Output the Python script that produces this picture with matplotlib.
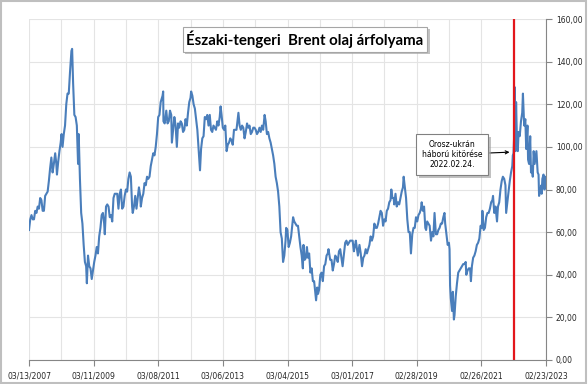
import numpy as np
import pandas as pd
import matplotlib
matplotlib.use("Agg")
import matplotlib.pyplot as plt
import matplotlib.dates as mdates
import matplotlib.patheffects as pe
from matplotlib.patches import Rectangle
from matplotlib.ticker import FuncFormatter

# Brent napi árfolyam (USD/hordó) - a képről leolvasott értékek
dates = [
    # 2007
    "2007-03-13", "2007-03-27", "2007-04-10", "2007-04-24", "2007-05-08", "2007-05-22", "2007-06-05",
    "2007-06-19", "2007-07-03", "2007-07-17", "2007-07-31", "2007-08-14", "2007-08-28", "2007-09-11",
    "2007-09-25", "2007-10-09", "2007-10-23", "2007-11-06", "2007-11-20", "2007-12-04", "2007-12-18",
    # 2008
    "2008-01-02", "2008-01-15", "2008-01-22", "2008-02-05", "2008-02-19", "2008-03-04", "2008-03-14",
    "2008-03-25", "2008-04-08", "2008-04-22", "2008-05-06", "2008-05-20", "2008-06-03", "2008-06-17",
    "2008-07-03", "2008-07-11", "2008-07-22", "2008-08-05", "2008-08-19", "2008-09-02", "2008-09-16",
    "2008-09-23", "2008-10-07", "2008-10-21", "2008-11-04", "2008-11-18", "2008-12-02", "2008-12-16",
    "2008-12-24",
    # 2009
    "2009-01-06", "2009-01-20", "2009-02-03", "2009-02-17", "2009-03-03", "2009-03-17", "2009-03-31",
    "2009-04-14", "2009-04-28", "2009-05-12", "2009-05-26", "2009-06-09", "2009-06-23", "2009-07-07",
    "2009-07-14", "2009-07-28", "2009-08-11", "2009-08-25", "2009-09-08", "2009-09-22", "2009-10-06",
    "2009-10-20", "2009-11-03", "2009-11-17", "2009-12-01", "2009-12-15", "2009-12-29",
    # 2010
    "2010-01-12", "2010-01-26", "2010-02-09", "2010-02-23", "2010-03-09", "2010-03-23", "2010-04-06",
    "2010-04-20", "2010-05-04", "2010-05-18", "2010-05-25", "2010-06-08", "2010-06-22", "2010-07-06",
    "2010-07-20", "2010-08-03", "2010-08-17", "2010-08-24", "2010-09-07", "2010-09-21", "2010-10-05",
    "2010-10-19", "2010-11-02", "2010-11-16", "2010-11-30", "2010-12-14", "2010-12-28",
    # 2011
    "2011-01-11", "2011-01-25", "2011-02-08", "2011-02-22", "2011-03-08", "2011-03-22", "2011-04-05",
    "2011-04-12", "2011-04-26", "2011-05-03", "2011-05-06", "2011-05-20", "2011-06-07", "2011-06-21",
    "2011-07-05", "2011-07-19", "2011-08-02", "2011-08-09", "2011-08-23", "2011-09-06", "2011-09-20",
    "2011-10-04", "2011-10-18", "2011-11-01", "2011-11-15", "2011-11-29", "2011-12-13", "2011-12-27",
    # 2012
    "2012-01-10", "2012-01-24", "2012-02-07", "2012-02-21", "2012-03-06", "2012-03-13", "2012-03-27",
    "2012-04-10", "2012-04-24", "2012-05-08", "2012-05-22", "2012-06-05", "2012-06-21", "2012-07-03",
    "2012-07-17", "2012-07-31", "2012-08-14", "2012-08-28", "2012-09-11", "2012-09-25", "2012-10-09",
    "2012-10-23", "2012-11-06", "2012-11-20", "2012-12-04", "2012-12-18",
    # 2013
    "2013-01-02", "2013-01-15", "2013-01-29", "2013-02-08", "2013-02-19", "2013-03-05", "2013-03-19",
    "2013-04-02", "2013-04-17", "2013-04-30", "2013-05-14", "2013-05-28", "2013-06-11", "2013-06-25",
    "2013-07-09", "2013-07-23", "2013-08-06", "2013-08-28", "2013-09-10", "2013-09-24", "2013-10-08",
    "2013-10-22", "2013-11-05", "2013-11-19", "2013-12-03", "2013-12-17", "2013-12-31",
    # 2014
    "2014-01-14", "2014-01-28", "2014-02-11", "2014-02-25", "2014-03-11", "2014-03-25", "2014-04-08",
    "2014-04-22", "2014-05-06", "2014-05-20", "2014-06-03", "2014-06-19", "2014-07-01", "2014-07-15",
    "2014-07-29", "2014-08-12", "2014-08-26", "2014-09-09", "2014-09-23", "2014-10-07", "2014-10-21",
    "2014-11-04", "2014-11-18", "2014-12-02", "2014-12-16", "2014-12-30",
    # 2015
    "2015-01-13", "2015-01-27", "2015-02-10", "2015-02-17", "2015-03-03", "2015-03-17", "2015-03-31",
    "2015-04-14", "2015-05-06", "2015-05-19", "2015-06-02", "2015-06-16", "2015-06-30", "2015-07-14",
    "2015-07-28", "2015-08-11", "2015-08-24", "2015-08-31", "2015-09-14", "2015-09-28", "2015-10-09",
    "2015-10-20", "2015-11-03", "2015-11-17", "2015-12-01", "2015-12-15", "2015-12-29",
    # 2016
    "2016-01-12", "2016-01-20", "2016-02-02", "2016-02-11", "2016-02-23", "2016-03-08", "2016-03-22",
    "2016-04-05", "2016-04-19", "2016-05-03", "2016-05-17", "2016-05-31", "2016-06-08", "2016-06-27",
    "2016-07-12", "2016-07-26", "2016-08-09", "2016-08-23", "2016-09-06", "2016-09-20", "2016-10-04",
    "2016-10-18", "2016-11-01", "2016-11-14", "2016-11-30", "2016-12-13", "2016-12-27",
    # 2017
    "2017-01-10", "2017-01-24", "2017-02-07", "2017-02-21", "2017-03-07", "2017-03-21", "2017-04-04",
    "2017-04-12", "2017-04-25", "2017-05-05", "2017-05-23", "2017-06-06", "2017-06-21", "2017-07-05",
    "2017-07-18", "2017-08-01", "2017-08-15", "2017-08-29", "2017-09-12", "2017-09-26", "2017-10-10",
    "2017-10-24", "2017-11-07", "2017-11-21", "2017-12-05", "2017-12-19",
    # 2018
    "2018-01-02", "2018-01-16", "2018-01-30", "2018-02-13", "2018-02-27", "2018-03-13", "2018-03-27",
    "2018-04-10", "2018-04-24", "2018-05-08", "2018-05-17", "2018-05-29", "2018-06-12", "2018-06-19",
    "2018-07-03", "2018-07-17", "2018-07-31", "2018-08-14", "2018-08-28", "2018-09-11", "2018-09-25",
    "2018-10-03", "2018-10-16", "2018-10-30", "2018-11-13", "2018-11-27", "2018-12-11", "2018-12-24",
    # 2019
    "2019-01-08", "2019-01-22", "2019-02-05", "2019-02-19", "2019-03-05", "2019-03-19", "2019-04-02",
    "2019-04-16", "2019-04-24", "2019-05-07", "2019-05-21", "2019-06-04", "2019-06-13", "2019-06-25",
    "2019-07-09", "2019-07-23", "2019-08-07", "2019-08-20", "2019-09-03", "2019-09-16", "2019-10-01",
    "2019-10-15", "2019-10-29", "2019-11-12", "2019-11-26", "2019-12-10", "2019-12-24",
    # 2020
    "2020-01-06", "2020-01-14", "2020-01-28", "2020-02-11", "2020-02-25", "2020-03-03", "2020-03-09",
    "2020-03-17", "2020-03-31", "2020-04-09", "2020-04-21", "2020-04-28", "2020-05-12", "2020-05-26",
    "2020-06-09", "2020-06-23", "2020-07-07", "2020-07-21", "2020-08-04", "2020-08-18", "2020-09-01",
    "2020-09-08", "2020-09-22", "2020-10-06", "2020-10-20", "2020-10-30", "2020-11-10", "2020-11-24",
    "2020-12-08", "2020-12-22",
    # 2021
    "2021-01-05", "2021-01-19", "2021-02-02", "2021-02-16", "2021-03-02", "2021-03-08", "2021-03-23",
    "2021-04-06", "2021-04-20", "2021-05-04", "2021-05-18", "2021-06-01", "2021-06-15", "2021-06-29",
    "2021-07-06", "2021-07-20", "2021-08-03", "2021-08-20", "2021-08-31", "2021-09-14", "2021-09-28",
    "2021-10-12", "2021-10-25", "2021-11-09", "2021-11-23", "2021-12-01", "2021-12-14", "2021-12-28",
    # 2022
    "2022-01-11", "2022-01-25", "2022-02-08", "2022-02-14", "2022-02-22", "2022-03-01", "2022-03-08",
    "2022-03-16", "2022-03-23", "2022-04-01", "2022-04-11", "2022-04-20", "2022-05-03", "2022-05-17",
    "2022-05-31", "2022-06-08", "2022-06-22", "2022-07-05", "2022-07-15", "2022-07-29", "2022-08-05",
    "2022-08-16", "2022-08-29", "2022-09-07", "2022-09-15", "2022-09-27", "2022-10-07", "2022-10-18",
    "2022-11-07", "2022-11-21", "2022-12-01", "2022-12-07", "2022-12-20",
    # 2023
    "2023-01-03", "2023-01-05", "2023-01-13", "2023-01-26", "2023-02-06", "2023-02-14", "2023-02-23",
]

brent = [
    # 2007
    61, 66, 68, 66, 66, 70, 69,
    72, 71, 76, 75, 70, 70, 77,
    78, 79, 84, 90, 95, 88, 92,
    # 2008
    97, 92, 87, 93, 98, 102, 106,
    100, 106, 110, 120, 125, 125, 135,
    145, 146, 130, 115, 114, 110, 92,
    106, 85, 69, 64, 54, 46, 44,
    36,
    # 2009
    49, 44, 43, 38, 42, 46, 49,
    53, 50, 58, 62, 68, 69, 64,
    59, 72, 73, 72, 67, 68, 65,
    76, 78, 78, 78, 71, 78,
    # 2010
    80, 71, 72, 77, 80, 79, 85,
    88, 86, 72, 69, 72, 77, 71,
    76, 81, 77, 72, 76, 78, 83,
    82, 86, 85, 86, 91, 94,
    # 2011
    97, 96, 100, 106, 114, 115, 121,
    122, 124, 126, 112, 111, 117, 111,
    112, 117, 115, 102, 108, 114, 110,
    100, 111, 109, 112, 111, 107, 108,
    # 2012
    113, 110, 116, 121, 123, 126, 124,
    120, 118, 113, 108, 99, 89, 99,
    104, 105, 114, 113, 115, 110, 115,
    108, 107, 110, 109, 108,
    # 2013
    112, 110, 114, 119, 115, 109, 108,
    110, 98, 101, 102, 104, 103, 101,
    108, 108, 108, 116, 110, 108, 110,
    109, 104, 107, 111, 109, 110,
    # 2014
    106, 107, 109, 109, 108, 106, 107,
    109, 107, 110, 108, 115, 112, 106,
    107, 104, 102, 99, 96, 92, 86,
    83, 79, 72, 60, 57,
    # 2015
    46, 49, 56, 62, 61, 53, 55,
    58, 67, 65, 64, 63, 63, 58,
    53, 49, 43, 54, 47, 48, 53,
    48, 50, 41, 43, 37, 37,
    # 2016
    31, 28, 34, 31, 33, 40, 41,
    37, 44, 45, 49, 50, 52, 47,
    47, 42, 45, 49, 48, 46, 51,
    52, 48, 44, 50, 55, 56,
    # 2017
    54, 55, 56, 56, 56, 51, 54,
    56, 52, 49, 54, 50, 44, 48,
    49, 52, 50, 52, 54, 58, 56,
    58, 64, 62, 62, 64,
    # 2018
    67, 70, 69, 63, 66, 65, 70,
    71, 74, 75, 80, 76, 76, 73,
    78, 72, 74, 73, 76, 79, 81,
    86, 81, 76, 66, 60, 60, 50,
    # 2019
    59, 62, 62, 67, 65, 68, 69,
    71, 74, 70, 72, 62, 61, 65,
    64, 63, 56, 60, 58, 69, 59,
    59, 61, 62, 64, 64, 67,
    # 2020
    69, 64, 59, 54, 55, 52, 35,
    29, 23, 32, 19, 21, 30, 36,
    41, 42, 43, 44, 45, 45, 46,
    40, 42, 43, 43, 37, 44, 48,
    49, 51,
    # 2021
    54, 55, 57, 63, 62, 70, 61,
    62, 67, 69, 69, 71, 74, 75,
    77, 69, 72, 65, 72, 74, 80,
    84, 86, 85, 82, 69, 74, 79,
    # 2022
    84, 88, 91, 96, 97, 105, 128,
    98, 121, 104, 98, 107, 105, 112,
    116, 125, 110, 113, 99, 110, 94,
    92, 105, 88, 91, 86, 98, 92,
    98, 88, 87, 77, 80,
    # 2023
    82, 78, 85, 87, 80, 86, 82,
]

tick_dates = ["2007-03-13", "2009-03-11", "2011-03-08", "2013-03-06", "2015-03-04",
              "2017-03-01", "2019-02-28", "2021-02-26", "2023-02-23"]
war_date = "2022-02-24"
y_ticks = [0, 20, 40, 60, 80, 100, 120, 140, 160]

d = pd.to_datetime(dates)
major = pd.to_datetime(tick_dates)
minor = [major[i] + (major[i + 1] - major[i]) / 2 for i in range(len(major) - 1)]

fig = plt.figure(figsize=(5.88, 3.84), dpi=100)
ax = fig.add_axes([29 / 588, 24 / 384, 517 / 588, 341 / 384])

ax.plot(d, brent, color="#4a7ebb", lw=1.5, solid_joinstyle="round")
ax.axvline(pd.Timestamp(war_date), color="#e3161b", lw=1.6)

ax.set_xlim(major[0], major[-1])
ax.set_ylim(0, 160)
ax.set_xticks(major)
ax.set_xticks(minor, minor=True)
ax.xaxis.set_major_formatter(mdates.DateFormatter("%m/%d/%Y"))
ax.set_yticks(y_ticks)
ax.yaxis.set_major_formatter(FuncFormatter(lambda v, p: f"{v:.2f}".replace(".", ",")))
ax.yaxis.tick_right()

ax.grid(True, which="both", color="#e4e4e4", lw=0.8)
ax.set_axisbelow(True)
for s in ["top", "left"]:
    ax.spines[s].set_visible(False)
for s in ["bottom", "right"]:
    ax.spines[s].set_color("#868686")
    ax.spines[s].set_linewidth(0.8)
ax.tick_params(axis="x", which="major", length=4, color="#868686", labelsize=5.5, pad=4,
               labelcolor="#262626")
ax.tick_params(axis="x", which="minor", length=0)
ax.tick_params(axis="y", length=4, color="#868686", labelsize=5.5, pad=3, labelcolor="#262626")

shadow = [pe.withSimplePatchShadow(offset=(2, -2), shadow_rgbFace="#999999", alpha=0.6)]

t = fig.text(305 / 588, 1 - 39 / 384, "Északi-tengeri  Brent olaj árfolyama",
             ha="center", va="center", fontsize=10.8, fontweight="bold", family="Lato",
             bbox=dict(boxstyle="square,pad=0.25", fc="white", ec="#a6a6a6", lw=0.8))
t.get_bbox_patch().set_path_effects(shadow)

a = ax.annotate("Orosz-ukrán\nháború kitörése\n2022.02.24.",
                xy=(pd.Timestamp(war_date), 97.6), xytext=(452 / 588, 1 - 154.5 / 384),
                textcoords="figure fraction", ha="center", va="center", fontsize=5.5,
                linespacing=1.2,
                bbox=dict(boxstyle="square,pad=0.75", fc="white", ec="#808080", lw=0.8),
                arrowprops=dict(arrowstyle="->", color="black", lw=0.8,
                                shrinkA=1, shrinkB=3))
a.get_bbox_patch().set_path_effects(shadow)

fig.patches.append(Rectangle((0.002, 0.003), 0.995, 0.994, transform=fig.transFigure,
                             fill=False, ec="#bfbfbf", lw=1.5))

fig.savefig("out.png", dpi=100)
